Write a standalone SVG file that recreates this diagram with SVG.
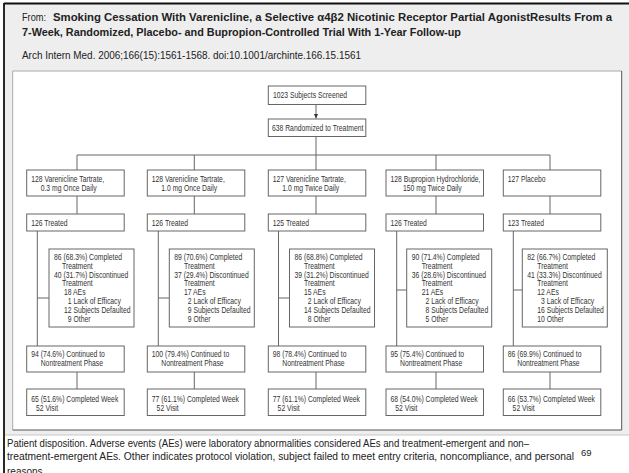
<svg xmlns="http://www.w3.org/2000/svg" width="629" height="473" viewBox="0 0 629 473">
<style>
.f{font-family:"Liberation Sans",Arial,Helvetica,sans-serif;font-size:8.5px;fill:#333}
.b{fill:#fff;stroke:#666;stroke-width:1}
.c{stroke:#666;stroke-width:1;fill:none}
.h{font-family:"Liberation Sans",Arial,Helvetica,sans-serif;fill:#222}
</style>
<defs>
<marker id="ah" markerWidth="5" markerHeight="5" refX="4.5" refY="2.5" orient="auto" markerUnits="userSpaceOnUse">
<path d="M0,0.5 L4.5,2.5 L0,4.5 Z" fill="#333"/>
</marker>
</defs>
<rect x="0" y="0" width="629" height="473" fill="#fff"/>
<rect x="5" y="4" width="624" height="431" fill="#eeeeee"/>
<line x1="5" y1="435" x2="629" y2="435" stroke="#c8c8c8" stroke-width="1"/>
<line x1="4" y1="3.5" x2="629" y2="3.5" stroke="#111" stroke-width="1.8"/>
<line x1="4" y1="3" x2="4" y2="473" stroke="#111" stroke-width="1.8"/>
<g id="header">
<text class="h" x="22" y="21" font-size="11.5" textLength="24" lengthAdjust="spacingAndGlyphs">From:</text>
<text class="h" x="53" y="21" font-size="11.5" font-weight="bold" textLength="559" lengthAdjust="spacingAndGlyphs">Smoking Cessation With Varenicline, a Selective α4β2 Nicotinic Receptor Partial AgonistResults From a</text>
<text class="h" x="22" y="35.5" font-size="11.5" font-weight="bold" textLength="439" lengthAdjust="spacingAndGlyphs">7-Week, Randomized, Placebo- and Bupropion-Controlled Trial With 1-Year Follow-up</text>
<text class="h" x="22" y="58.5" font-size="10" fill="#333" textLength="339" lengthAdjust="spacingAndGlyphs">Arch Intern  Med. 2006;166(15):1561-1568. doi:10.1001/archinte.166.15.1561</text>
</g>
<rect x="12.7" y="71" width="609" height="359" fill="#fff"/>
<path d="M12.7,430 V71 H621.7" fill="none" stroke="#aaa" stroke-width="1"/>
<path d="M12.7,430 H621.7 V71" fill="none" stroke="#555" stroke-width="1"/>

<g id="connectors">
<line class="c" x1="316" y1="104.5" x2="316" y2="118.5" marker-end="url(#ah)"/>
<path class="c" d="M316,136.5 V155 M77,155 H550 M77,155 V170 M194.3,155 V170 M316,155 V170 M436,155 V170 M550,155 V170"/>
<path class="c" d="M77,196 V214 M194.3,196 V214 M316,196 V214 M436,196 V214 M550,196 V214"/>
<path class="c" d="M37.3,231 V346 M158.3,231 V346 M278.5,231 V346 M396.7,231 V346 M513.3,231 V346"/>
<path class="c" d="M37.3,298 H49 M158.3,298 H169.3 M278.5,298 H289.5 M396.7,290 H406.7 M513.3,290 H522.3"/>
<path class="c" d="M77,372 V389 M194.3,372 V389 M316,372 V389 M436,372 V389 M550,372 V389"/>
</g>

<g id="screened"><rect class="b" x="268.3" y="86" width="97.5" height="18.5"/><text class="f" transform="translate(273 98) scale(.8 1)">1023 Subjects Screened</text></g>
<g id="randomized"><rect class="b" x="268.3" y="119" width="97.5" height="17.5"/><text class="f" transform="translate(272 130.8) scale(.8 1)">638 Randomized to Treatment</text></g>

<g id="arm1"><rect class="b" x="26.7" y="170" width="97.5" height="26"/><text class="f" transform="translate(31.2 181.7) scale(.8 1)">128 Varenicline Tartrate,</text><text class="f" transform="translate(40.7 190.7) scale(.8 1)">0.3 mg Once Daily</text></g>
<g id="arm2"><rect class="b" x="147.3" y="170" width="97.5" height="26"/><text class="f" transform="translate(151.8 181.7) scale(.8 1)">128 Varenicline Tartrate,</text><text class="f" transform="translate(161.3 190.7) scale(.8 1)">1.0 mg Once Daily</text></g>
<g id="arm3"><rect class="b" x="268.3" y="170" width="97.5" height="26"/><text class="f" transform="translate(272.8 181.7) scale(.8 1)">127 Varenicline Tartrate,</text><text class="f" transform="translate(282.3 190.7) scale(.8 1)">1.0 mg Twice Daily</text></g>
<g id="arm4"><rect class="b" x="386" y="170" width="97.5" height="26"/><text class="f" transform="translate(390.5 181.7) scale(.8 1)">128 Bupropion Hydrochloride,</text><text class="f" transform="translate(403 190.7) scale(.8 1)">150 mg Twice Daily</text></g>
<g id="arm5"><rect class="b" x="503.3" y="170" width="97.5" height="26"/><text class="f" transform="translate(507.8 181.7) scale(.8 1)">127 Placebo</text></g>

<g id="treated1"><rect class="b" x="26.7" y="214" width="97.5" height="17"/><text class="f" transform="translate(31.2 225.6) scale(.8 1)">126 Treated</text></g>
<g id="treated2"><rect class="b" x="147.3" y="214" width="97.5" height="17"/><text class="f" transform="translate(151.8 225.6) scale(.8 1)">126 Treated</text></g>
<g id="treated3"><rect class="b" x="268.3" y="214" width="97.5" height="17"/><text class="f" transform="translate(272.8 225.6) scale(.8 1)">125 Treated</text></g>
<g id="treated4"><rect class="b" x="386" y="214" width="97.5" height="17"/><text class="f" transform="translate(390.5 225.6) scale(.8 1)">126 Treated</text></g>
<g id="treated5"><rect class="b" x="503.3" y="214" width="97.5" height="17"/><text class="f" transform="translate(507.8 225.6) scale(.8 1)">123 Treated</text></g>

<g id="detail1"><rect class="b" x="49" y="249" width="85" height="78"/>
<text class="f" transform="translate(54 259.7) scale(.8 1)">86 (68.3%) Completed</text>
<text class="f" transform="translate(62 268.6) scale(.8 1)">Treatment</text>
<text class="f" transform="translate(54 277.5) scale(.8 1)">40 (31.7%) Discontinued</text>
<text class="f" transform="translate(62 286.4) scale(.8 1)">Treatment</text>
<text class="f" transform="translate(64 295.3) scale(.8 1)">18 AEs</text>
<text class="f" transform="translate(67.8 304.2) scale(.8 1)">1 Lack of Efficacy</text>
<text class="f" transform="translate(64 313.1) scale(.8 1)">12 Subjects Defaulted</text>
<text class="f" transform="translate(67.8 322) scale(.8 1)">9 Other</text></g>

<g id="detail2"><rect class="b" x="169.3" y="249" width="85" height="78"/>
<text class="f" transform="translate(174.3 259.7) scale(.8 1)">89 (70.6%) Completed</text>
<text class="f" transform="translate(184 268.6) scale(.8 1)">Treatment</text>
<text class="f" transform="translate(174.3 277.5) scale(.8 1)">37 (29.4%) Discontinued</text>
<text class="f" transform="translate(184 286.4) scale(.8 1)">Treatment</text>
<text class="f" transform="translate(184 295.3) scale(.8 1)">17 AEs</text>
<text class="f" transform="translate(187.8 304.2) scale(.8 1)">2 Lack of Efficacy</text>
<text class="f" transform="translate(187.8 313.1) scale(.8 1)">9 Subjects Defaulted</text>
<text class="f" transform="translate(187.8 322) scale(.8 1)">9 Other</text></g>

<g id="detail3"><rect class="b" x="289.5" y="249" width="85" height="78"/>
<text class="f" transform="translate(294.5 259.7) scale(.8 1)">86 (68.8%) Completed</text>
<text class="f" transform="translate(304 268.6) scale(.8 1)">Treatment</text>
<text class="f" transform="translate(294.5 277.5) scale(.8 1)">39 (31.2%) Discontinued</text>
<text class="f" transform="translate(304 286.4) scale(.8 1)">Treatment</text>
<text class="f" transform="translate(304 295.3) scale(.8 1)">15 AEs</text>
<text class="f" transform="translate(307.8 304.2) scale(.8 1)">2 Lack of Efficacy</text>
<text class="f" transform="translate(304 313.1) scale(.8 1)">14 Subjects Defaulted</text>
<text class="f" transform="translate(307.8 322) scale(.8 1)">8 Other</text></g>

<g id="detail4"><rect class="b" x="406.7" y="249" width="85" height="78"/>
<text class="f" transform="translate(411.7 259.7) scale(.8 1)">90 (71.4%) Completed</text>
<text class="f" transform="translate(421.7 268.6) scale(.8 1)">Treatment</text>
<text class="f" transform="translate(411.7 277.5) scale(.8 1)">36 (28.6%) Discontinued</text>
<text class="f" transform="translate(421.7 286.4) scale(.8 1)">Treatment</text>
<text class="f" transform="translate(421.7 295.3) scale(.8 1)">21 AEs</text>
<text class="f" transform="translate(425.5 304.2) scale(.8 1)">2 Lack of Efficacy</text>
<text class="f" transform="translate(425.5 313.1) scale(.8 1)">8 Subjects Defaulted</text>
<text class="f" transform="translate(425.5 322) scale(.8 1)">5 Other</text></g>

<g id="detail5"><rect class="b" x="522.3" y="249" width="85" height="78"/>
<text class="f" transform="translate(527.3 259.7) scale(.8 1)">82 (66.7%) Completed</text>
<text class="f" transform="translate(537.3 268.6) scale(.8 1)">Treatment</text>
<text class="f" transform="translate(527.3 277.5) scale(.8 1)">41 (33.3%) Discontinued</text>
<text class="f" transform="translate(537.3 286.4) scale(.8 1)">Treatment</text>
<text class="f" transform="translate(537.3 295.3) scale(.8 1)">12 AEs</text>
<text class="f" transform="translate(541.1 304.2) scale(.8 1)">3 Lack of Efficacy</text>
<text class="f" transform="translate(537.3 313.1) scale(.8 1)">16 Subjects Defaulted</text>
<text class="f" transform="translate(537.3 322) scale(.8 1)">10 Other</text></g>

<g id="cont1"><rect class="b" x="26.7" y="346" width="97.5" height="26"/><text class="f" transform="translate(31.2 357.3) scale(.8 1)">94 (74.6%) Continued to</text><text class="f" transform="translate(40.7 366.3) scale(.8 1)">Nontreatment Phase</text></g>
<g id="cont2"><rect class="b" x="147.3" y="346" width="97.5" height="26"/><text class="f" transform="translate(151.8 357.3) scale(.8 1)">100 (79.4%) Continued to</text><text class="f" transform="translate(161.3 366.3) scale(.8 1)">Nontreatment Phase</text></g>
<g id="cont3"><rect class="b" x="268.3" y="346" width="97.5" height="26"/><text class="f" transform="translate(272.8 357.3) scale(.8 1)">98 (78.4%) Continued to</text><text class="f" transform="translate(282.3 366.3) scale(.8 1)">Nontreatment Phase</text></g>
<g id="cont4"><rect class="b" x="386" y="346" width="97.5" height="26"/><text class="f" transform="translate(390.5 357.3) scale(.8 1)">95 (75.4%) Continued to</text><text class="f" transform="translate(400 366.3) scale(.8 1)">Nontreatment Phase</text></g>
<g id="cont5"><rect class="b" x="503.3" y="346" width="97.5" height="26"/><text class="f" transform="translate(507.8 357.3) scale(.8 1)">86 (69.9%) Continued to</text><text class="f" transform="translate(517.3 366.3) scale(.8 1)">Nontreatment Phase</text></g>

<g id="wk1"><rect class="b" x="26.7" y="389" width="97.5" height="26.5"/><text class="f" transform="translate(31.2 401.7) scale(.8 1)">65 (51.6%) Completed Week</text><text class="f" transform="translate(36 410.5) scale(.8 1)">52 Visit</text></g>
<g id="wk2"><rect class="b" x="147.3" y="389" width="97.5" height="26.5"/><text class="f" transform="translate(151.8 401.7) scale(.8 1)">77 (61.1%) Completed Week</text><text class="f" transform="translate(156.6 410.5) scale(.8 1)">52 Visit</text></g>
<g id="wk3"><rect class="b" x="268.3" y="389" width="97.5" height="26.5"/><text class="f" transform="translate(272.8 401.7) scale(.8 1)">77 (61.1%) Completed Week</text><text class="f" transform="translate(277.6 410.5) scale(.8 1)">52 Visit</text></g>
<g id="wk4"><rect class="b" x="386" y="389" width="97.5" height="26.5"/><text class="f" transform="translate(390.5 401.7) scale(.8 1)">68 (54.0%) Completed Week</text><text class="f" transform="translate(395.3 410.5) scale(.8 1)">52 Visit</text></g>
<g id="wk5"><rect class="b" x="503.3" y="389" width="97.5" height="26.5"/><text class="f" transform="translate(507.8 401.7) scale(.8 1)">66 (53.7%) Completed Week</text><text class="f" transform="translate(512.6 410.5) scale(.8 1)">52 Visit</text></g>

<g id="caption">
<text class="h" x="7" y="446.5" font-size="10" textLength="522" lengthAdjust="spacingAndGlyphs">Patient disposition. Adverse events (AEs) were laboratory abnormalities considered AEs and treatment-emergent  and non–</text>
<text class="h" x="7" y="460" font-size="10" textLength="567" lengthAdjust="spacingAndGlyphs">treatment-emergent  AEs. Other indicates protocol violation, subject failed to meet entry criteria, noncompliance,  and personal</text>
<text class="h" x="581" y="456" font-size="9.5" fill="#999">69</text>
<text class="h" x="7" y="475" font-size="10">reasons.</text>
</g>
</svg>
